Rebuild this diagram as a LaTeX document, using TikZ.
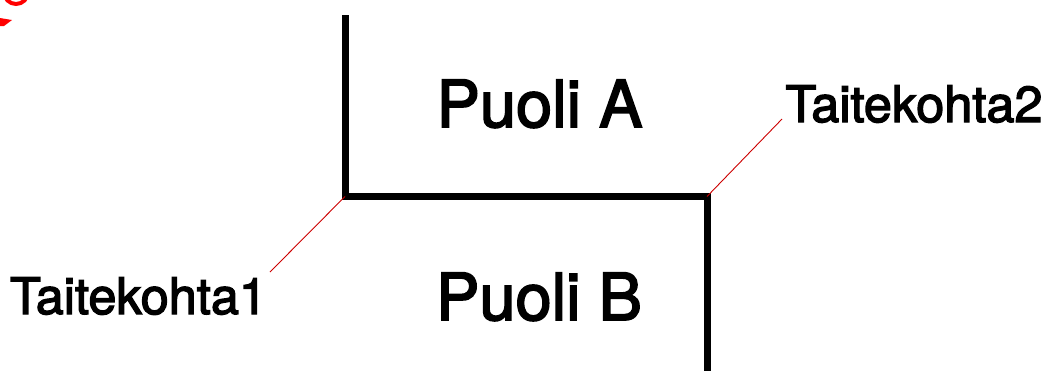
\documentclass[tikz,border=0pt]{standalone}
\usepackage{fontspec}
\setmainfont{TeX Gyre Heros}
\newfontfamily\medfont[FakeBold=2.6]{TeX Gyre Heros}
\begin{document}
\begin{tikzpicture}[x=1pt,y=-1pt,
  fold/.style={line width=7pt,black},
  leader/.style={red!80!black,line width=0.9pt},
  bigtxt/.style={inner sep=0pt,anchor=base,font=\medfont\fontsize{65}{70}\selectfont},
  smalltxt/.style={inner sep=0pt,anchor=base,font=\medfont\fontsize{50.5}{54}\selectfont}]
\useasboundingbox (0,0) rectangle (1049,370);
% red partial mark at top-left
\draw[red,line width=4pt] (16,-8) circle[radius=12];
\fill[red] (0,18) -- (12,20) -- (4,26) -- (0,26) -- cycle;
% fold line
\coordinate (top) at (345,15);
\coordinate (k1) at (345,196.5);
\coordinate (k2) at (707,196.5);
\coordinate (bot) at (707,372);
\draw[fold,line join=miter] (top) -- (k1) -- (k2) -- (bot);
% labels
\node[bigtxt] (pa) at (539.5,127) {Puoli A};
\node[bigtxt] (pb) at (539,320) {Puoli B};
\node[smalltxt] (t1) at (138.5,314) {Taitekohta1};
\node[smalltxt] (t2) at (914,122) {Taitekohta2};
\coordinate (l1) at (270,272);
\coordinate (l2) at (782,119);
\draw[leader] (k1) -- (l1);
\draw[leader] (k2) -- (l2);
\end{tikzpicture}
\end{document}
